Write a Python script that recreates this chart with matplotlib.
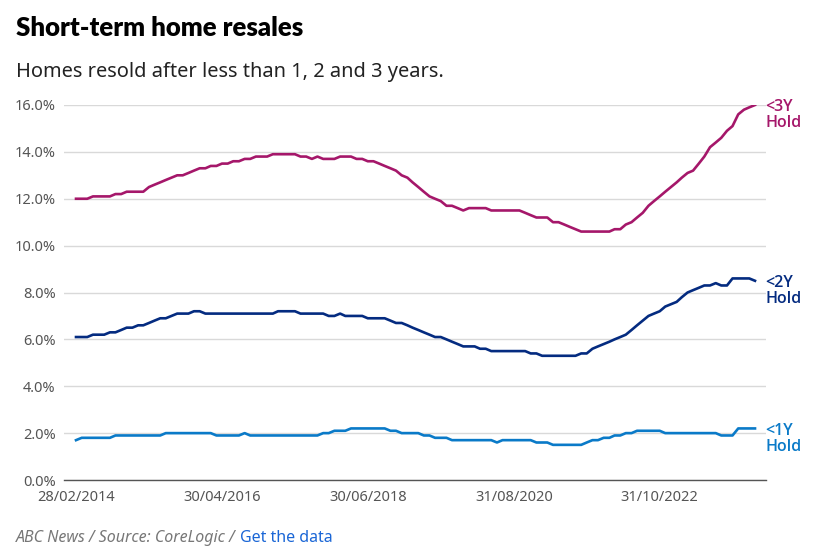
import numpy as np
import pandas as pd
import matplotlib
matplotlib.use("Agg")
import matplotlib.pyplot as plt
import matplotlib.dates as mdates

plt.rcParams['font.family'] = ['Noto Sans', 'DejaVu Sans']

# monthly values, Feb 2014 onwards (%)
hold_3y = [12.0, 12.0, 12.0, 12.1, 12.1, 12.1, 12.1, 12.2, 12.2, 12.3,
           12.3, 12.3, 12.3, 12.5, 12.6, 12.7, 12.8, 12.9, 13.0, 13.0,
           13.1, 13.2, 13.3, 13.3, 13.4, 13.4, 13.5, 13.5, 13.6, 13.6,
           13.7, 13.7, 13.8, 13.8, 13.8, 13.9, 13.9, 13.9, 13.9, 13.9,
           13.8, 13.8, 13.7, 13.8, 13.7, 13.7, 13.7, 13.8, 13.8, 13.8,
           13.7, 13.7, 13.6, 13.6, 13.5, 13.4, 13.3, 13.2, 13.0, 12.9,
           12.7, 12.5, 12.3, 12.1, 12.0, 11.9, 11.7, 11.7, 11.6, 11.5,
           11.6, 11.6, 11.6, 11.6, 11.5, 11.5, 11.5, 11.5, 11.5, 11.5,
           11.4, 11.3, 11.2, 11.2, 11.2, 11.0, 11.0, 10.9, 10.8, 10.7,
           10.6, 10.6, 10.6, 10.6, 10.6, 10.6, 10.7, 10.7, 10.9, 11.0,
           11.2, 11.4, 11.7, 11.9, 12.1, 12.3, 12.5, 12.7, 12.9, 13.1,
           13.2, 13.5, 13.8, 14.2, 14.4, 14.6, 14.9, 15.1, 15.6, 15.8,
           15.9, 16.0]
hold_2y = [6.1, 6.1, 6.1, 6.2, 6.2, 6.2, 6.3, 6.3, 6.4, 6.5,
           6.5, 6.6, 6.6, 6.7, 6.8, 6.9, 6.9, 7.0, 7.1, 7.1,
           7.1, 7.2, 7.2, 7.1, 7.1, 7.1, 7.1, 7.1, 7.1, 7.1,
           7.1, 7.1, 7.1, 7.1, 7.1, 7.1, 7.2, 7.2, 7.2, 7.2,
           7.1, 7.1, 7.1, 7.1, 7.1, 7.0, 7.0, 7.1, 7.0, 7.0,
           7.0, 7.0, 6.9, 6.9, 6.9, 6.9, 6.8, 6.7, 6.7, 6.6,
           6.5, 6.4, 6.3, 6.2, 6.1, 6.1, 6.0, 5.9, 5.8, 5.7,
           5.7, 5.7, 5.6, 5.6, 5.5, 5.5, 5.5, 5.5, 5.5, 5.5,
           5.5, 5.4, 5.4, 5.3, 5.3, 5.3, 5.3, 5.3, 5.3, 5.3,
           5.4, 5.4, 5.6, 5.7, 5.8, 5.9, 6.0, 6.1, 6.2, 6.4,
           6.6, 6.8, 7.0, 7.1, 7.2, 7.4, 7.5, 7.6, 7.8, 8.0,
           8.1, 8.2, 8.3, 8.3, 8.4, 8.3, 8.3, 8.6, 8.6, 8.6,
           8.6, 8.5]
hold_1y = [1.7, 1.8, 1.8, 1.8, 1.8, 1.8, 1.8, 1.9, 1.9, 1.9,
           1.9, 1.9, 1.9, 1.9, 1.9, 1.9, 2.0, 2.0, 2.0, 2.0,
           2.0, 2.0, 2.0, 2.0, 2.0, 1.9, 1.9, 1.9, 1.9, 1.9,
           2.0, 1.9, 1.9, 1.9, 1.9, 1.9, 1.9, 1.9, 1.9, 1.9,
           1.9, 1.9, 1.9, 1.9, 2.0, 2.0, 2.1, 2.1, 2.1, 2.2,
           2.2, 2.2, 2.2, 2.2, 2.2, 2.2, 2.1, 2.1, 2.0, 2.0,
           2.0, 2.0, 1.9, 1.9, 1.8, 1.8, 1.8, 1.7, 1.7, 1.7,
           1.7, 1.7, 1.7, 1.7, 1.7, 1.6, 1.7, 1.7, 1.7, 1.7,
           1.7, 1.7, 1.6, 1.6, 1.6, 1.5, 1.5, 1.5, 1.5, 1.5,
           1.5, 1.6, 1.7, 1.7, 1.8, 1.8, 1.9, 1.9, 2.0, 2.0,
           2.1, 2.1, 2.1, 2.1, 2.1, 2.0, 2.0, 2.0, 2.0, 2.0,
           2.0, 2.0, 2.0, 2.0, 2.0, 1.9, 1.9, 1.9, 2.2, 2.2,
           2.2, 2.2]
dates = pd.date_range('2014-02-28', periods=len(hold_3y), freq='ME')
tick_dates = pd.to_datetime(['2014-02-28', '2016-04-30', '2018-06-30',
                             '2020-08-31', '2022-10-31'])

series = [(hold_3y, '#a5176a', '<3Y\nHold'),
          (hold_2y, '#042b80', '<2Y\nHold'),
          (hold_1y, '#0a7ac8', '<1Y\nHold')]

fig = plt.figure(figsize=(8.2, 5.52), dpi=100)
ax = fig.add_axes([64/820, 1 - 480/552, (766-64)/820, (480-105)/552])

for vals, col, lab in series:
    ax.plot(dates, vals, color=col, lw=1.9, solid_joinstyle='round')
    ax.text(dates[-1] + pd.Timedelta(days=58), vals[-1] + 0.25, lab, color=col,
            fontsize=11.5, family='Open Sans', fontweight='semibold',
            va='top', ha='left', linespacing=1.0)

span = (dates[-1] - dates[0]) / 121
ax.set_xlim(dates[0] - span * 2.14, dates[0] + span * 122.96)
ax.set_ylim(0, 16)
ax.set_yticks(np.arange(0, 17, 2))
ax.set_yticklabels(['%.1f%%' % v for v in np.arange(0, 17, 2)])
ax.set_xticks(tick_dates)
ax.xaxis.set_major_formatter(mdates.DateFormatter('%d/%m/%Y'))
ax.tick_params(length=0, labelsize=10.5, labelcolor='#555555', pad=6)
ax.tick_params(axis='x', pad=7)
ax.grid(axis='y', color='#d9d9d9', lw=1)
ax.set_axisbelow(True)
for s in ['top', 'right', 'left']:
    ax.spines[s].set_visible(False)
ax.spines['bottom'].set_color('#555555')
ax.spines['bottom'].set_linewidth(1)

fig.text(16/820, 1 - 28/552, 'Short-term home resales', fontsize=18.5,
         family='Lato', fontweight='heavy', va='center', ha='left', color='#000000')
fig.text(16/820, 1 - 72/552, 'Homes resold after less than 1, 2 and 3 years.',
         fontsize=14.4, va='center', ha='left', color='#222222')
t = fig.text(16/820, 1 - 538/552, 'ABC News / Source: CoreLogic / ', fontsize=11.5,
             style='italic', va='center', ha='left', color='#777777')
fig.canvas.draw()
bb = t.get_window_extent()
fig.text(bb.x1 / 820, 1 - 538/552, 'Get the data', fontsize=11.5,
         va='center', ha='left', color='#1a66d6')

fig.savefig('out.png', dpi=100)
